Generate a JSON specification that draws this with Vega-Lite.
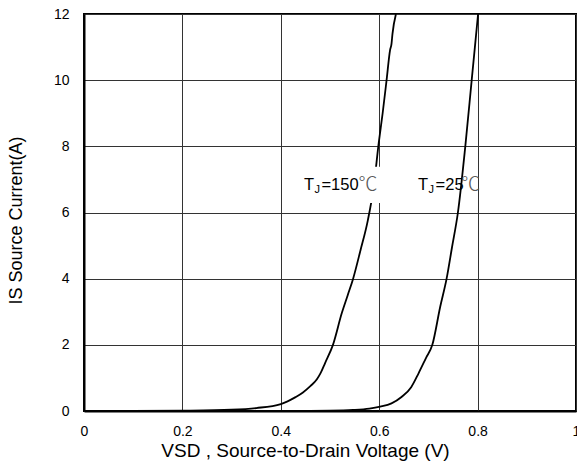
{
  "$schema": "https://vega.github.io/schema/vega-lite/v6.json",
  "width": 492,
  "height": 397,
  "autosize": {"type": "none"},
  "padding": {"left": 84, "top": 14, "right": 1, "bottom": 57},
  "background": "white",
  "config": {
    "font": "Liberation Sans",
    "view": {"stroke": "#000", "strokeWidth": 2},
    "axis": {
      "grid": true, "gridColor": "#333", "gridWidth": 1, "gridOpacity": 1,
      "domainColor": "#000", "domainWidth": 2, "ticks": false, "labelFlush": false,
      "labelFont": "Liberation Sans", "labelFontSize": 14, "labelColor": "#000",
      "titleFont": "Liberation Sans", "titleFontWeight": "normal", "titleColor": "#000"
    }
  },
  "datasets": {
    "curves": [
      {"series": "150", "v": 0.0, "i": 0.0},
      {"series": "150", "v": 0.1, "i": 0.0},
      {"series": "150", "v": 0.2, "i": 0.01},
      {"series": "150", "v": 0.3, "i": 0.04},
      {"series": "150", "v": 0.35, "i": 0.09},
      {"series": "150", "v": 0.4, "i": 0.21},
      {"series": "150", "v": 0.43, "i": 0.42},
      {"series": "150", "v": 0.445, "i": 0.56},
      {"series": "150", "v": 0.46, "i": 0.75},
      {"series": "150", "v": 0.473, "i": 0.95},
      {"series": "150", "v": 0.48, "i": 1.12},
      {"series": "150", "v": 0.49, "i": 1.45},
      {"series": "150", "v": 0.506, "i": 2.0},
      {"series": "150", "v": 0.524, "i": 2.96},
      {"series": "150", "v": 0.536, "i": 3.5},
      {"series": "150", "v": 0.547, "i": 4.0},
      {"series": "150", "v": 0.562, "i": 4.86},
      {"series": "150", "v": 0.577, "i": 5.77},
      {"series": "150", "v": 0.589, "i": 6.8},
      {"series": "150", "v": 0.599, "i": 8.1},
      {"series": "150", "v": 0.607, "i": 9.0},
      {"series": "150", "v": 0.615, "i": 10.0},
      {"series": "150", "v": 0.622, "i": 10.9},
      {"series": "150", "v": 0.625, "i": 11.1},
      {"series": "150", "v": 0.627, "i": 11.4},
      {"series": "150", "v": 0.634, "i": 12.0},
      {"series": "25", "v": 0.0, "i": 0.0},
      {"series": "25", "v": 0.3, "i": 0.0},
      {"series": "25", "v": 0.45, "i": 0.005},
      {"series": "25", "v": 0.5, "i": 0.01},
      {"series": "25", "v": 0.547, "i": 0.03},
      {"series": "25", "v": 0.58, "i": 0.07},
      {"series": "25", "v": 0.602, "i": 0.13},
      {"series": "25", "v": 0.625, "i": 0.23},
      {"series": "25", "v": 0.646, "i": 0.43},
      {"series": "25", "v": 0.665, "i": 0.72},
      {"series": "25", "v": 0.68, "i": 1.14},
      {"series": "25", "v": 0.695, "i": 1.6},
      {"series": "25", "v": 0.708, "i": 2.0},
      {"series": "25", "v": 0.724, "i": 3.15},
      {"series": "25", "v": 0.737, "i": 4.0},
      {"series": "25", "v": 0.748, "i": 4.95},
      {"series": "25", "v": 0.76, "i": 6.0},
      {"series": "25", "v": 0.775, "i": 8.0},
      {"series": "25", "v": 0.788, "i": 10.0},
      {"series": "25", "v": 0.801, "i": 12.0}
    ],
    "labels": [
      {"x": 0.447, "y": 6.68, "t": "T", "j": "J", "rest": "=150", "ux": 0.558, "unit": "℃"},
      {"x": 0.679, "y": 6.68, "t": "T", "j": "J", "rest": "=25", "ux": 0.767, "unit": "℃"}
    ]
  },
  "layer": [
    {
      "data": {"name": "curves"},
      "mark": {"type": "line", "color": "#000", "strokeWidth": 1.8, "clip": true, "interpolate": "monotone"},
      "encoding": {
        "x": {
          "field": "v", "type": "quantitative",
          "scale": {"domain": [0, 1], "nice": false},
          "axis": {"values": [0, 0.2, 0.4, 0.6, 0.8, 1], "format": "~g", "labelPadding": 13, "titlePadding": 3, "titleFontSize": 19, "titleX": 221, "title": "VSD , Source-to-Drain Voltage (V)"}
        },
        "y": {
          "field": "i", "type": "quantitative",
          "scale": {"domain": [0, 12], "nice": false},
          "axis": {"values": [0, 2, 4, 6, 8, 10, 12], "format": "d", "labelPadding": 15, "titlePadding": 28, "titleFontSize": 18, "titleY": 206, "title": "IS Source Current(A)"}
        },
        "detail": {"field": "series", "type": "nominal"}
      }
    },
    {
      "data": {"values": [{}]},
      "mark": {"type": "rect", "fill": "white"},
      "encoding": {
        "x": {"datum": 0.44},
        "x2": {"datum": 0.612},
        "y": {"datum": 6.29},
        "y2": {"datum": 7.38}
      }
    },
    {
      "data": {"name": "labels"},
      "mark": {"type": "text", "align": "left", "baseline": "alphabetic", "fontSize": 16.5, "font": "Liberation Sans", "color": "#000"},
      "encoding": {
        "x": {"field": "x", "type": "quantitative"},
        "y": {"field": "y", "type": "quantitative"},
        "text": {"field": "t"}
      }
    },
    {
      "data": {"name": "labels"},
      "mark": {"type": "text", "align": "left", "baseline": "alphabetic", "fontSize": 11, "font": "Liberation Sans", "color": "#000", "dx": 10.5, "dy": 3},
      "encoding": {
        "x": {"field": "x", "type": "quantitative"},
        "y": {"field": "y", "type": "quantitative"},
        "text": {"field": "j"}
      }
    },
    {
      "data": {"name": "labels"},
      "mark": {"type": "text", "align": "left", "baseline": "alphabetic", "fontSize": 16.5, "font": "Liberation Sans", "color": "#000", "dx": 17.5},
      "encoding": {
        "x": {"field": "x", "type": "quantitative"},
        "y": {"field": "y", "type": "quantitative"},
        "text": {"field": "rest"}
      }
    },
    {
      "data": {"name": "labels"},
      "mark": {"type": "text", "align": "left", "baseline": "alphabetic", "fontSize": 19, "font": "Noto Sans CJK SC", "fontWeight": 300, "color": "#555", "dy": 1},
      "encoding": {
        "x": {"field": "ux", "type": "quantitative"},
        "y": {"field": "y", "type": "quantitative"},
        "text": {"field": "unit"}
      }
    }
  ]
}
